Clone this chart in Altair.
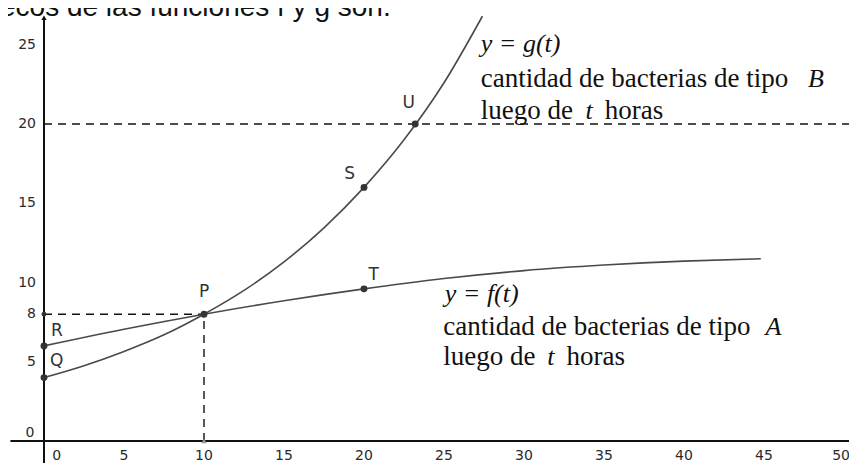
import altair as alt
import pandas as pd

# ---------------- data ----------------
t_f = [0, 5, 10, 15, 20, 25, 30, 35, 40, 44.8]
f_vals = [6.0, 7.05, 8.0, 8.85, 9.6, 10.25, 10.75, 11.1, 11.35, 11.5]

t_g = [0, 2.5, 5, 7.5, 10, 12.5, 15, 17.5, 20, 22.5, 25, 27.4]
g_vals = [4.0, 4.75, 5.65, 6.7, 8.0, 9.5, 11.3, 13.45, 16.0, 19.0, 22.6, 26.8]

pt_names = ["R", "Q", "P", "T", "S", "U"]
pt_t = [0, 0, 10, 20, 20, 23.2]
pt_y = [6, 4, 8, 9.6, 16, 20]
lab_t = [0.8, 0.8, 10, 20.6, 19.1, 22.8]
lab_y = [6.95, 5.05, 9.4, 10.5, 16.85, 21.3]

x_ticks = [5, 10, 15, 20, 25, 30, 35, 40, 45]
x_last = 50
y_ticks = [5, 8, 10, 15, 20, 25]

XD = [-2.25, 50.3125]
YD = [-1.388, 27.319]
W, H = 841, 455

xs = alt.Scale(domain=XD, nice=False, zero=False)
ys = alt.Scale(domain=YD, nice=False, zero=False)


def X(f="t"):
    return alt.X(f"{f}:Q", scale=xs, axis=None)


def Y(f="y"):
    return alt.Y(f"{f}:Q", scale=ys, axis=None)


TICKFONT = dict(font="DejaVu Sans", fontSize=14, color="#2a2a2a", baseline="middle")

# ---------------- axes (drawn through the scales) ----------------
axes_df = pd.DataFrame({"t": [-2.1, 0], "t2": [XD[1], 0], "y": [0, YD[0]], "y2": [0, 26.7]})
axes = alt.Chart(axes_df).mark_rule(color="#111", strokeWidth=2).encode(
    x=X(), x2="t2:Q", y=Y(), y2="y2:Q"
)
arrow = alt.Chart(pd.DataFrame({"t": [0], "y": [26.7]})).mark_point(
    shape="triangle-up", filled=True, color="#111", size=28, opacity=1
).encode(x=X(), y=Y())

xt_df = pd.DataFrame({"t": x_ticks, "y": [-0.95] * len(x_ticks), "lab": [str(v) for v in x_ticks]})
xlab = alt.Chart(xt_df).mark_text(**TICKFONT).encode(x=X(), y=Y(), text="lab:N")
x0 = alt.Chart(pd.DataFrame({"t": [0.8], "y": [-0.95], "lab": ["0"]})).mark_text(**TICKFONT).encode(
    x=X(), y=Y(), text="lab:N")
x50 = alt.Chart(pd.DataFrame({"t": [x_last], "y": [-0.95], "lab": [str(x_last)]})).mark_text(
    dx=6, align="right", **TICKFONT).encode(x=X(), y=Y(), text="lab:N")

yt_df = pd.DataFrame({"t": [-0.5] * len(y_ticks), "y": y_ticks, "lab": [str(v) for v in y_ticks]})
ylab = alt.Chart(yt_df).mark_text(align="right", **TICKFONT).encode(x=X(), y=Y(), text="lab:N")
y0 = alt.Chart(pd.DataFrame({"t": [-0.6], "y": [0.5], "lab": ["0"]})).mark_text(align="right", **TICKFONT).encode(
    x=X(), y=Y(), text="lab:N")

# ---------------- dashed guides ----------------
dash_df = pd.DataFrame({"t": [0, 0, 10], "t2": [XD[1], 10, 10], "y": [20, 8, 0], "y2": [20, 8, 8]})
dashes = alt.Chart(dash_df).mark_rule(color="#111", strokeWidth=1.4, strokeDash=[8, 6]).encode(
    x=X(), x2="t2:Q", y=Y(), y2="y2:Q"
)

# ---------------- curves ----------------
f_df = pd.DataFrame({"t": t_f, "y": f_vals})
g_df = pd.DataFrame({"t": t_g, "y": g_vals})
f_line = alt.Chart(f_df).mark_line(color="#4a4a4a", strokeWidth=1.6, interpolate="monotone").encode(x=X(), y=Y())
g_line = alt.Chart(g_df).mark_line(color="#4a4a4a", strokeWidth=1.6, interpolate="monotone").encode(x=X(), y=Y())

# ---------------- points and labels ----------------
pts_df = pd.DataFrame({"t": pt_t, "y": pt_y, "name": pt_names})
pts = alt.Chart(pts_df).mark_circle(color="#333", size=48, opacity=1).encode(x=X(), y=Y())
small_axis_pt = alt.Chart(pd.DataFrame({"t": [0], "y": [8]})).mark_circle(color="#333", size=24, opacity=1).encode(x=X(), y=Y())
small_x_pt = alt.Chart(pd.DataFrame({"t": [10], "y": [0]})).mark_point(
    shape="triangle-up", filled=True, color="#999", size=30, opacity=1
).encode(x=X(), y=Y())

labs_df = pd.DataFrame({"t": lab_t, "y": lab_y, "name": pt_names})
labs = alt.Chart(labs_df).mark_text(font="DejaVu Sans", fontSize=17, color="#333", baseline="middle").encode(
    x=X(), y=Y(), text="name:N"
)

# ---------------- annotations ----------------
SERIF = "Liberation Serif"
ann_reg = pd.DataFrame({
    "t": [27.3, 27.3, 35.05, 24.95, 24.95, 32.65],
    "y": [22.35, 20.3, 20.3, 6.68, 4.78, 4.78],
    "txt": ["cantidad de bacterias de tipo", "luego de", "horas",
            "cantidad de bacterias de tipo", "luego de", "horas"],
})
ann_it = pd.DataFrame({
    "t": [27.3, 47.75, 33.85, 25.05, 45.1, 31.45],
    "y": [24.55, 22.35, 20.3, 8.8, 6.68, 4.78],
    "txt": ["y = g(t)", "B", "t", "y = f(t)", "A", "t"],
})
t_reg = alt.Chart(ann_reg).mark_text(font=SERIF, fontSize=27, color="#111", align="left", baseline="alphabetic").encode(
    x=X(), y=Y(), text="txt:N"
)
t_it = alt.Chart(ann_it).mark_text(font=SERIF, fontSize=26, fontStyle="italic", color="#111", align="left", baseline="alphabetic").encode(
    x=X(), y=Y(), text="txt:N"
)

header = alt.Chart(pd.DataFrame({"t": [-2.75], "y": [26.84], "txt": ["ecos de las funciones f y g son."]})).mark_text(
    font="Liberation Sans", fontSize=28, color="#111", align="left", baseline="alphabetic"
).encode(x=X(), y=Y(), text="txt:N")

chart = alt.layer(
    dashes, axes, arrow, f_line, g_line, pts, small_axis_pt, small_x_pt, labs,
    xlab, x0, x50, ylab, y0, t_reg, t_it, header
).properties(
    width=W, height=H, padding=0, autosize="none"
).configure_view(stroke=None)

chart.save("out.html", embed_options={"renderer": "svg", "actions": False})
